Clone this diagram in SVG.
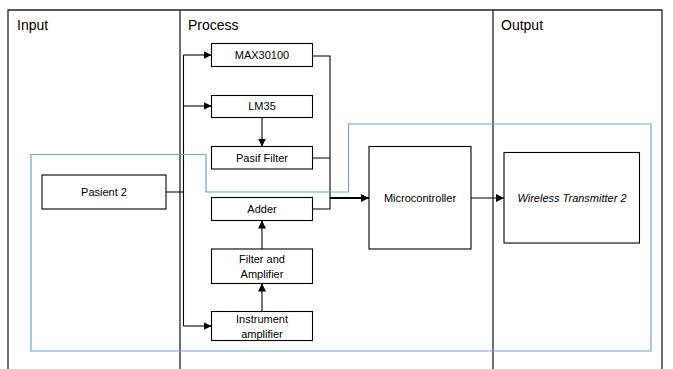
<svg xmlns="http://www.w3.org/2000/svg" width="673" height="369" viewBox="0 0 673 369">
<style>
.col{stroke:#222;stroke-width:1.3;fill:none}
.hdr{font-family:"Liberation Sans",Arial,sans-serif;font-size:14px;fill:#000}
.box{fill:#fff;stroke:#000;stroke-width:1.1}
.lbl{font-family:"Liberation Sans",Arial,sans-serif;font-size:11px;fill:#000;text-anchor:middle}
.ln{stroke:#000;stroke-width:1.1;fill:none}
.thick{stroke:#000;stroke-width:2;fill:none}
.blue{stroke:#6fa3d9;stroke-width:1.2;fill:none}
</style>
<defs>
<marker id="ah" viewBox="0 0 10 10" refX="10" refY="5" markerWidth="8" markerHeight="8" markerUnits="userSpaceOnUse" orient="auto">
<path d="M0,0 L10,5 L0,10 Z" fill="#000"/>
</marker>
<marker id="ahs" viewBox="0 0 10 10" refX="10" refY="5" markerWidth="5" markerHeight="5" orient="auto">
<path d="M0,0 L10,5 L0,10 Z" fill="#000"/>
</marker>
</defs>
<g id="lanes">
<path class="col" d="M8,369 V10 H662 V369 M180,10 V369 M493,10 V369"/>
<text class="hdr" x="17" y="30">Input</text>
<text class="hdr" x="188" y="30">Process</text>
<text class="hdr" x="501" y="30">Output</text>
</g>
<g id="connectors">
<path class="ln" d="M166,192 H183.5 M183.5,55 V326"/>
<path class="ln" d="M183.5,55 H211.5" marker-end="url(#ah)"/>
<path class="ln" d="M183.5,106 H211.5" marker-end="url(#ah)"/>
<path class="ln" d="M183.5,326 H211.5" marker-end="url(#ah)"/>
<path class="ln" d="M262,117.5 V146.5" marker-end="url(#ah)"/>
<path class="ln" d="M262,311.5 V283.5" marker-end="url(#ah)"/>
<path class="ln" d="M262,249 V220.5" marker-end="url(#ah)"/>
<path class="ln" d="M312.5,56 H330 V209 H312.5 M312.5,158 H330"/>
<path class="thick" d="M330,198 H369" marker-end="url(#ah)"/>
<path class="ln" d="M471,198 H504" marker-end="url(#ah)"/>
</g>
<g id="pasien2">
<rect class="box" x="42" y="175" width="124" height="34"/>
<text class="lbl" x="104" y="196">Pasient 2</text>
</g>
<g id="max30100">
<rect class="box" x="211.5" y="43.5" width="101" height="23"/>
<text class="lbl" x="262" y="59">MAX30100</text>
</g>
<g id="lm35">
<rect class="box" x="211.5" y="95.5" width="101" height="22"/>
<text class="lbl" x="262" y="110">LM35</text>
</g>
<g id="pasif-filter">
<rect class="box" x="211.5" y="146.5" width="101" height="22.5"/>
<text class="lbl" x="262" y="162">Pasif Filter</text>
</g>
<g id="adder">
<rect class="box" x="211.5" y="197.5" width="101" height="23"/>
<text class="lbl" x="262" y="213">Adder</text>
</g>
<g id="filter-amplifier">
<rect class="box" x="211.5" y="249" width="101" height="34.5"/>
<text class="lbl" x="262" y="263">Filter and</text>
<text class="lbl" x="262" y="278">Amplifier</text>
</g>
<g id="instrument-amplifier">
<rect class="box" x="211.5" y="311.5" width="101" height="29"/>
<text class="lbl" x="262" y="323">Instrument</text>
<text class="lbl" x="262" y="338">amplifier</text>
</g>
<g id="microcontroller">
<rect class="box" x="369" y="146.5" width="102" height="102.5"/>
<text class="lbl" x="420" y="202">Microcontroller</text>
</g>
<g id="wireless-transmitter">
<rect class="box" x="504" y="152.5" width="135.5" height="90.5"/>
<text class="lbl" x="572" y="202" font-style="italic">Wireless Transmitter 2</text>
</g>
<g id="group-outline">
<path class="blue" d="M31,154.5 H206 V192 H348.5 V124 H651 V351 H31 Z"/>
</g>
</svg>
